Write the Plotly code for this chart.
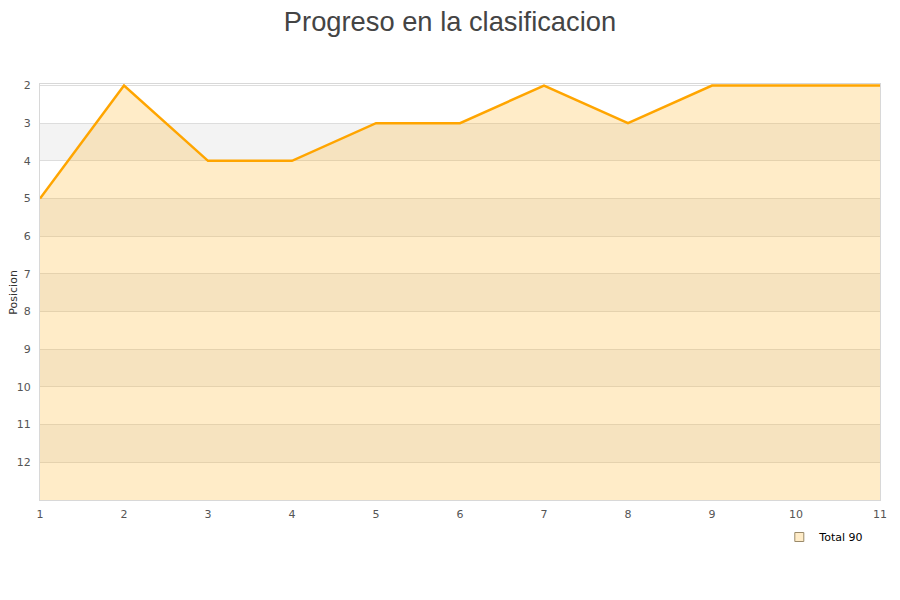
import plotly.graph_objects as go

jornadas = [1, 2, 3, 4, 5, 6, 7, 8, 9, 10, 11]
posicion = [5, 2, 4, 4, 3, 3, 2, 3, 2, 2, 2]
serie_nombre = "Total 90"
y_ticks = [2, 3, 4, 5, 6, 7, 8, 9, 10, 11, 12]
base = 13

fig = go.Figure()

# baseline for fill
fig.add_trace(go.Scatter(x=jornadas, y=[base] * len(jornadas), mode="lines",
                         line=dict(width=0, color="rgba(0,0,0,0)"),
                         showlegend=False, hoverinfo="skip"))
fig.add_trace(go.Scatter(x=jornadas, y=posicion, mode="lines", fill="tonexty",
                         fillcolor="rgba(255,179,35,0.25)",
                         line=dict(color="#ffa500", width=2.5),
                         showlegend=False, name=serie_nombre))
# legend entry
fig.add_trace(go.Scatter(x=[None], y=[None], mode="markers", name=serie_nombre,
                         marker=dict(symbol="square", size=9, color="#ffecc8",
                                     line=dict(color="#9a8a6a", width=1))))

# alternating bands
shapes = []
for y0 in range(3, 13, 2):
    shapes.append(dict(type="rect", xref="paper", x0=0, x1=1, yref="y", y0=y0, y1=y0 + 1,
                       fillcolor="#f3f3f3", line=dict(width=0), layer="below"))

fig.update_layout(
    width=900, height=600,
    paper_bgcolor="white", plot_bgcolor="white",
    margin=dict(l=32, r=28, t=76, b=108, autoexpand=False),
    font=dict(family="DejaVu Sans", size=11, color="#555555"),
    title=dict(text="Progreso en la clasificacion", x=0.4911, xanchor="center",
               yref="container", y=1.0, yanchor="top", pad=dict(t=4),
               font=dict(family="Liberation Sans", size=27.3, color="#444444")),
    shapes=shapes,
    showlegend=True,
    legend=dict(xref="container", yref="container", x=0.957, xanchor="right",
                y=1 - 529 / 600, yanchor="middle",
                bgcolor="rgba(0,0,0,0)", font=dict(family="DejaVu Sans", size=11, color="#000000")),
    annotations=[dict(text="Posicion", xref="paper", yref="paper", x=-0.0325, y=0.5,
                      xanchor="center", yanchor="middle", textangle=-90, showarrow=False,
                      font=dict(size=11, color="#333333"))],
    xaxis=dict(range=[1, 11], tickmode="array", tickvals=jornadas, showgrid=False,
               zeroline=False, showline=True, linecolor="#d8d8d8", mirror=True,
               ticks="", ticklen=0, automargin=False, ticklabelstandoff=4),
    yaxis=dict(range=[base, 1.96], tickmode="array", tickvals=y_ticks, showgrid=True,
               gridcolor="#dddddd", zeroline=False, showline=True, linecolor="#d8d8d8",
               mirror=True, ticks="", automargin=False, ticklabelstandoff=6),
)

fig.write_html("out.html")
